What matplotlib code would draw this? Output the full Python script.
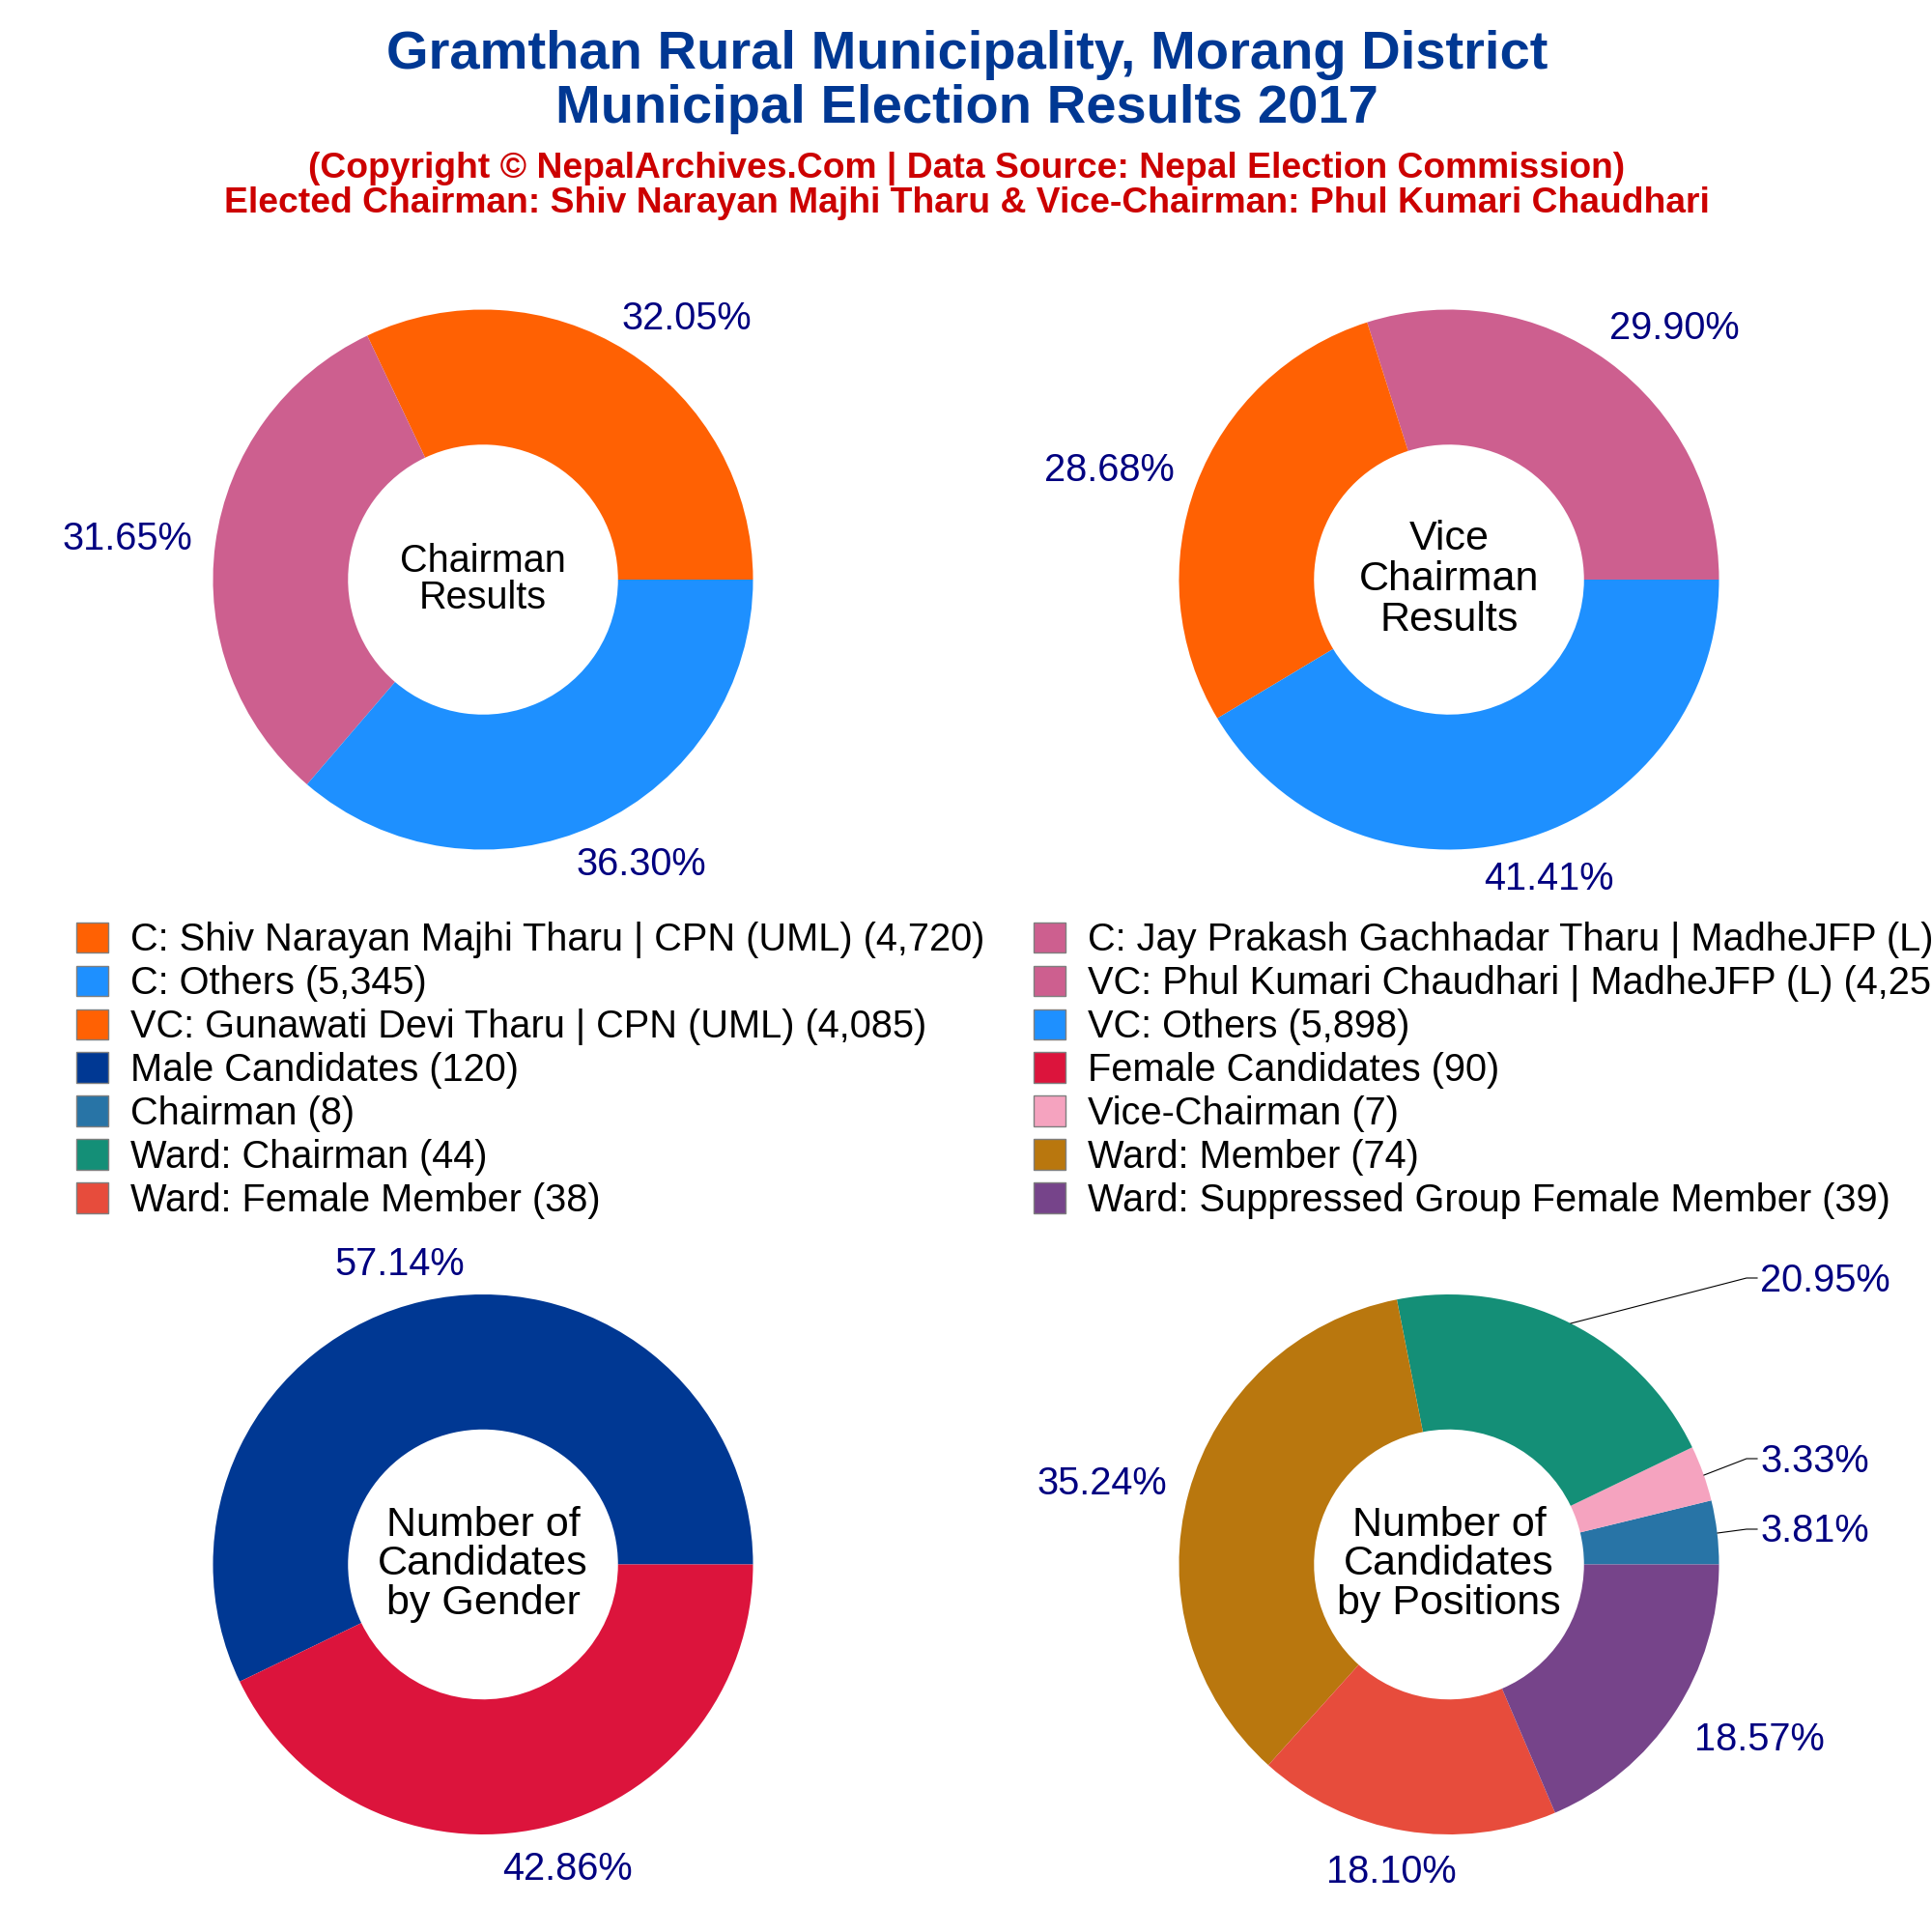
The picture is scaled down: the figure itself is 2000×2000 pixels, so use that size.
import matplotlib
matplotlib.use("Agg")
import matplotlib.pyplot as plt
from matplotlib.patches import Patch

plt.rcParams['font.family'] = ['Liberation Sans', 'DejaVu Sans']

# Vote and candidate counts, in drawing order (counterclockwise from 3 o'clock)
chairman_names = ["C: Shiv Narayan Majhi Tharu | CPN (UML)", "C: Jay Prakash Gachhadar Tharu | MadheJFP (L)", "C: Others"]
chairman_votes = [4720, 4661, 5345]
vice_names = ["VC: Phul Kumari Chaudhari | MadheJFP (L)", "VC: Gunawati Devi Tharu | CPN (UML)", "VC: Others"]
vice_votes = [4259, 4085, 5898]
gender_names = ["Male Candidates", "Female Candidates"]
gender_counts = [120, 90]
position_names = ["Chairman", "Vice-Chairman", "Ward: Chairman", "Ward: Member", "Ward: Female Member", "Ward: Suppressed Group Female Member"]
position_counts = [8, 7, 44, 74, 38, 39]

ORANGE = "#FF6103"
PINK = "#CD5F8F"
BLUE = "#1E90FF"
chairman_colors = [ORANGE, PINK, BLUE]
vice_colors = [PINK, ORANGE, BLUE]
gender_colors = ["#003893", "#DC143C"]
position_colors = ["#2874A6", "#F5A3BF", "#148F77", "#B9770E", "#E74C3C", "#76448A"]

W = 2000.0
RADIUS = 279.5
HALF = 420.0
LABEL_SIZE = 28.6


def draw_donut(center, values, colors, title, title_size, title_step, title_shift, label_xy):
    cx, cy = center
    ax = fig.add_axes([(cx - HALF) / W, 1 - (cy + HALF) / W, 2 * HALF / W, 2 * HALF / W])
    ax.pie(values, colors=colors, startangle=0, counterclock=True, radius=1,
           wedgeprops={'width': 0.5, 'linewidth': 0})
    ax.set_xlim(-HALF / RADIUS, HALF / RADIUS)
    ax.set_ylim(-HALF / RADIUS, HALF / RADIUS)
    ax.set_aspect('equal')
    ax.axis('off')
    lines = title.split("\n")
    top = cy - title_step * (len(lines) - 1) / 2 + title_shift
    for i, line in enumerate(lines):
        fig.text(cx / W, 1 - (top + i * title_step) / W, line, ha='center', va='center',
                 fontsize=title_size, color='black')
    total = float(sum(values))
    for v, (x, y) in zip(values, label_xy):
        fig.text(x / W, 1 - y / W, f"{100 * v / total:.2f}%", ha='center', va='center',
                 fontsize=LABEL_SIZE, color='#000080')


fig = plt.figure(figsize=(20, 20), dpi=100, facecolor='white')

draw_donut((500, 600), chairman_votes, chairman_colors, "Chairman\nResults", 28.5, 38, 0,
           [(711, 330), (132, 558), (664, 895)])
draw_donut((1500, 600), vice_votes, vice_colors, "Vice\nChairman\nResults", 31, 42, 0,
           [(1733, 340), (1148, 487), (1603, 910)])
draw_donut((500, 1619.5), gender_counts, gender_colors, "Number of\nCandidates\nby Gender", 31, 41, 0,
           [(414, 1309), (587, 1935)])
draw_donut((1500, 1619.5), position_counts, position_colors, "Number of\nCandidates\nby Positions", 31, 41, 0,
           [(1879, 1585), (1879, 1513), (1889, 1326), (1141, 1536), (1440, 1938), (1821, 1801)])

# leader lines for the three right hand labels of the positions donut
overlay = fig.add_axes([0, 0, 1, 1])
overlay.set_xlim(0, W)
overlay.set_ylim(W, 0)
overlay.axis('off')
overlay.patch.set_alpha(0)
leaders = [
    ([1626, 1808, 1819], [1370, 1323, 1323]),
    ([1764, 1808, 1819], [1527, 1510, 1510]),
    ([1778, 1808, 1819], [1587, 1583, 1583]),
]
for xs, ys in leaders:
    overlay.plot(xs, ys, color='black', linewidth=0.8)

# titles
fig.text(1001 / W, 1 - 57 / W, "Gramthan Rural Municipality, Morang District", ha='center', va='center',
         fontsize=40.4, fontweight='bold', color='#003893')
fig.text(1001 / W, 1 - 113 / W, "Municipal Election Results 2017", ha='center', va='center',
         fontsize=40.4, fontweight='bold', color='#003893')
fig.text(1001 / W, 1 - 174 / W, "(Copyright © NepalArchives.Com | Data Source: Nepal Election Commission)",
         ha='center', va='center', fontsize=26.8, fontweight='bold', color='#CC0000')
fig.text(1001 / W, 1 - 210 / W, "Elected Chairman: Shiv Narayan Majhi Tharu & Vice-Chairman: Phul Kumari Chaudhari",
         ha='center', va='center', fontsize=26.8, fontweight='bold', color='#CC0000')

# legends, two columns
left_entries = [
    (chairman_names[0], chairman_votes[0], ORANGE),
    (chairman_names[2], chairman_votes[2], BLUE),
    (vice_names[1], vice_votes[1], ORANGE),
    (gender_names[0], gender_counts[0], gender_colors[0]),
    (position_names[0], position_counts[0], position_colors[0]),
    (position_names[2], position_counts[2], position_colors[2]),
    (position_names[4], position_counts[4], position_colors[4]),
]
right_entries = [
    (chairman_names[1], chairman_votes[1], PINK),
    (vice_names[0], vice_votes[0], PINK),
    (vice_names[2], vice_votes[2], BLUE),
    (gender_names[1], gender_counts[1], gender_colors[1]),
    (position_names[1], position_counts[1], position_colors[1]),
    (position_names[3], position_counts[3], position_colors[3]),
    (position_names[5], position_counts[5], position_colors[5]),
]

for entries, x in ((left_entries, 79), (right_entries, 1070)):
    handles = [Patch(facecolor=c, edgecolor='#7f7f7f', linewidth=1, label=f"{n} ({v:,})") for n, v, c in entries]
    fig.legend(handles=handles, loc='upper left', bbox_to_anchor=(x / W, 1 - 954 / W),
               frameon=False, fontsize=28.6, borderpad=0, borderaxespad=0,
               handlelength=0.83, handleheight=0.83, handletextpad=0.58, labelspacing=0.175)

fig.savefig("out.png", dpi=100, facecolor='white')
plt.close(fig)
